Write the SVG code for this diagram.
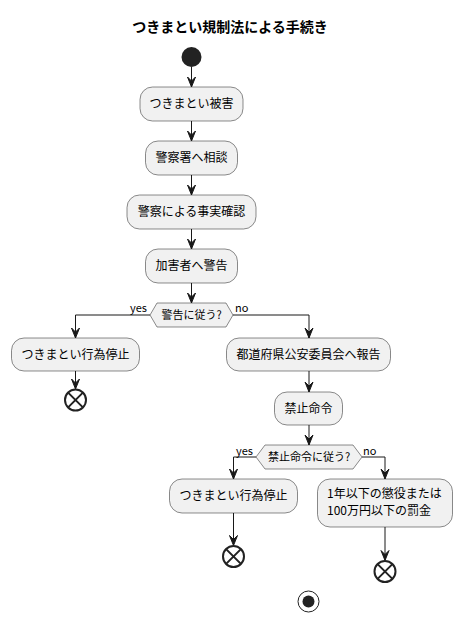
<svg xmlns="http://www.w3.org/2000/svg" width="462" height="623" viewBox="0 0 462 623">
<style>
.box{fill:#F1F1F1;stroke:#181818;stroke-width:0.5}
.t{font-family:"Noto Sans CJK JP","Noto Sans",sans-serif;font-size:12px;fill:#000}
.s{font-family:"Noto Sans CJK JP","Noto Sans",sans-serif;font-size:11px;fill:#000}
.ln{fill:none;stroke:#181818;stroke-width:1}
.ah{fill:#181818;stroke:#181818;stroke-width:1}
.end{fill:none;stroke:#222222;stroke-width:2}
</style>
<defs>
<polygon id="arr" class="ah" points="-4,-10 0,0 4,-10 0,-6"/>
</defs>
<rect width="462" height="623" fill="#FFFFFF"/>
<text x="230" y="32" text-anchor="middle" font-family="'Noto Sans CJK JP','Noto Sans',sans-serif" font-size="14" font-weight="bold">つきまとい規制法による手続き</text>
<g id="connectors">
<line class="ln" x1="191.5" y1="67" x2="191.5" y2="87"/><use href="#arr" x="191.5" y="87"/>
<line class="ln" x1="191.5" y1="121" x2="191.5" y2="141"/><use href="#arr" x="191.5" y="141"/>
<line class="ln" x1="191.5" y1="175" x2="191.5" y2="195"/><use href="#arr" x="191.5" y="195"/>
<line class="ln" x1="191.5" y1="229" x2="191.5" y2="249"/><use href="#arr" x="191.5" y="249"/>
<line class="ln" x1="191.5" y1="283" x2="191.5" y2="303"/><use href="#arr" x="191.5" y="303"/>
<polyline class="ln" points="150,315 75.5,315 75.5,338"/><use href="#arr" x="75.5" y="338"/>
<text class="s" x="130" y="312">yes</text>
<polyline class="ln" points="233,315 309,315 309,338"/><use href="#arr" x="309" y="338"/>
<text class="s" x="235" y="312">no</text>
<line class="ln" x1="75.5" y1="371" x2="75.5" y2="389"/><use href="#arr" x="75.5" y="389"/>
<line class="ln" x1="309" y1="371" x2="309" y2="392"/><use href="#arr" x="309" y="392"/>
<line class="ln" x1="309" y1="425" x2="309" y2="445"/><use href="#arr" x="309" y="445"/>
<polyline class="ln" points="256,457 233.5,457 233.5,479"/><use href="#arr" x="233.5" y="479"/>
<text class="s" x="236" y="455">yes</text>
<polyline class="ln" points="362,457 385,457 385,479"/><use href="#arr" x="385" y="479"/>
<text class="s" x="363" y="455">no</text>
<line class="ln" x1="233.5" y1="513" x2="233.5" y2="545.5"/><use href="#arr" x="233.5" y="545.5"/>
<line class="ln" x1="385" y1="527" x2="385" y2="560.5"/><use href="#arr" x="385" y="560.5"/>
</g>
<g id="start"><circle cx="191.5" cy="57" r="10" fill="#222222"/></g>
<g id="n1"><rect class="box" x="140" y="87" width="103" height="34" rx="12.5"/><text class="t" x="191.5" y="108" text-anchor="middle">つきまとい被害</text></g>
<g id="n2"><rect class="box" x="145.5" y="141" width="92" height="34" rx="12.5"/><text class="t" x="191.5" y="162" text-anchor="middle">警察署へ相談</text></g>
<g id="n3"><rect class="box" x="127" y="195" width="129" height="34" rx="12.5"/><text class="t" x="191.5" y="216" text-anchor="middle">警察による事実確認</text></g>
<g id="n4"><rect class="box" x="145.5" y="249" width="92" height="34" rx="12.5"/><text class="t" x="191.5" y="270" text-anchor="middle">加害者へ警告</text></g>
<g id="d1"><polygon class="box" points="150,315 157,303 226,303 233,315 226,327 157,327"/><text class="s" x="191.5" y="319" text-anchor="middle">警告に従う?</text></g>
<g id="n5"><rect class="box" x="11.5" y="338" width="128" height="33" rx="12.5"/><text class="t" x="75.5" y="359" text-anchor="middle">つきまとい行為停止</text></g>
<g id="e1"><circle class="end" cx="75.5" cy="400" r="10.5"/><path class="end" d="M68.1,392.6 L82.9,407.4 M82.9,392.6 L68.1,407.4"/></g>
<g id="n6"><rect class="box" x="226.5" y="338" width="164" height="33" rx="12.5"/><text class="t" x="308.5" y="359" text-anchor="middle">都道府県公安委員会へ報告</text></g>
<g id="n7"><rect class="box" x="274.5" y="392" width="68" height="33" rx="12.5"/><text class="t" x="308.5" y="413" text-anchor="middle">禁止命令</text></g>
<g id="d2"><polygon class="box" points="256,457 265,445 353,445 362,457 353,469 265,469"/><text class="s" x="309" y="461" text-anchor="middle">禁止命令に従う?</text></g>
<g id="n8"><rect class="box" x="169.5" y="479" width="128" height="34" rx="12.5"/><text class="t" x="233.5" y="500" text-anchor="middle">つきまとい行為停止</text></g>
<g id="e2"><circle class="end" cx="233.5" cy="556.5" r="10.5"/><path class="end" d="M226.1,549.1 L240.9,563.9 M240.9,549.1 L226.1,563.9"/></g>
<g id="n9"><rect class="box" x="317.5" y="479" width="135" height="48" rx="12.5"/><text class="t" x="327" y="498">1年以下の懲役または</text><text class="t" x="327" y="515">100万円以下の罰金</text></g>
<g id="e3"><circle class="end" cx="385" cy="571.5" r="10.5"/><path class="end" d="M377.6,564.1 L392.4,578.9 M392.4,564.1 L377.6,578.9"/></g>
<g id="stop"><circle cx="308.5" cy="601.5" r="10.5" fill="none" stroke="#222222" stroke-width="1"/><circle cx="308.5" cy="601.5" r="6" fill="#222222"/></g>
</svg>
